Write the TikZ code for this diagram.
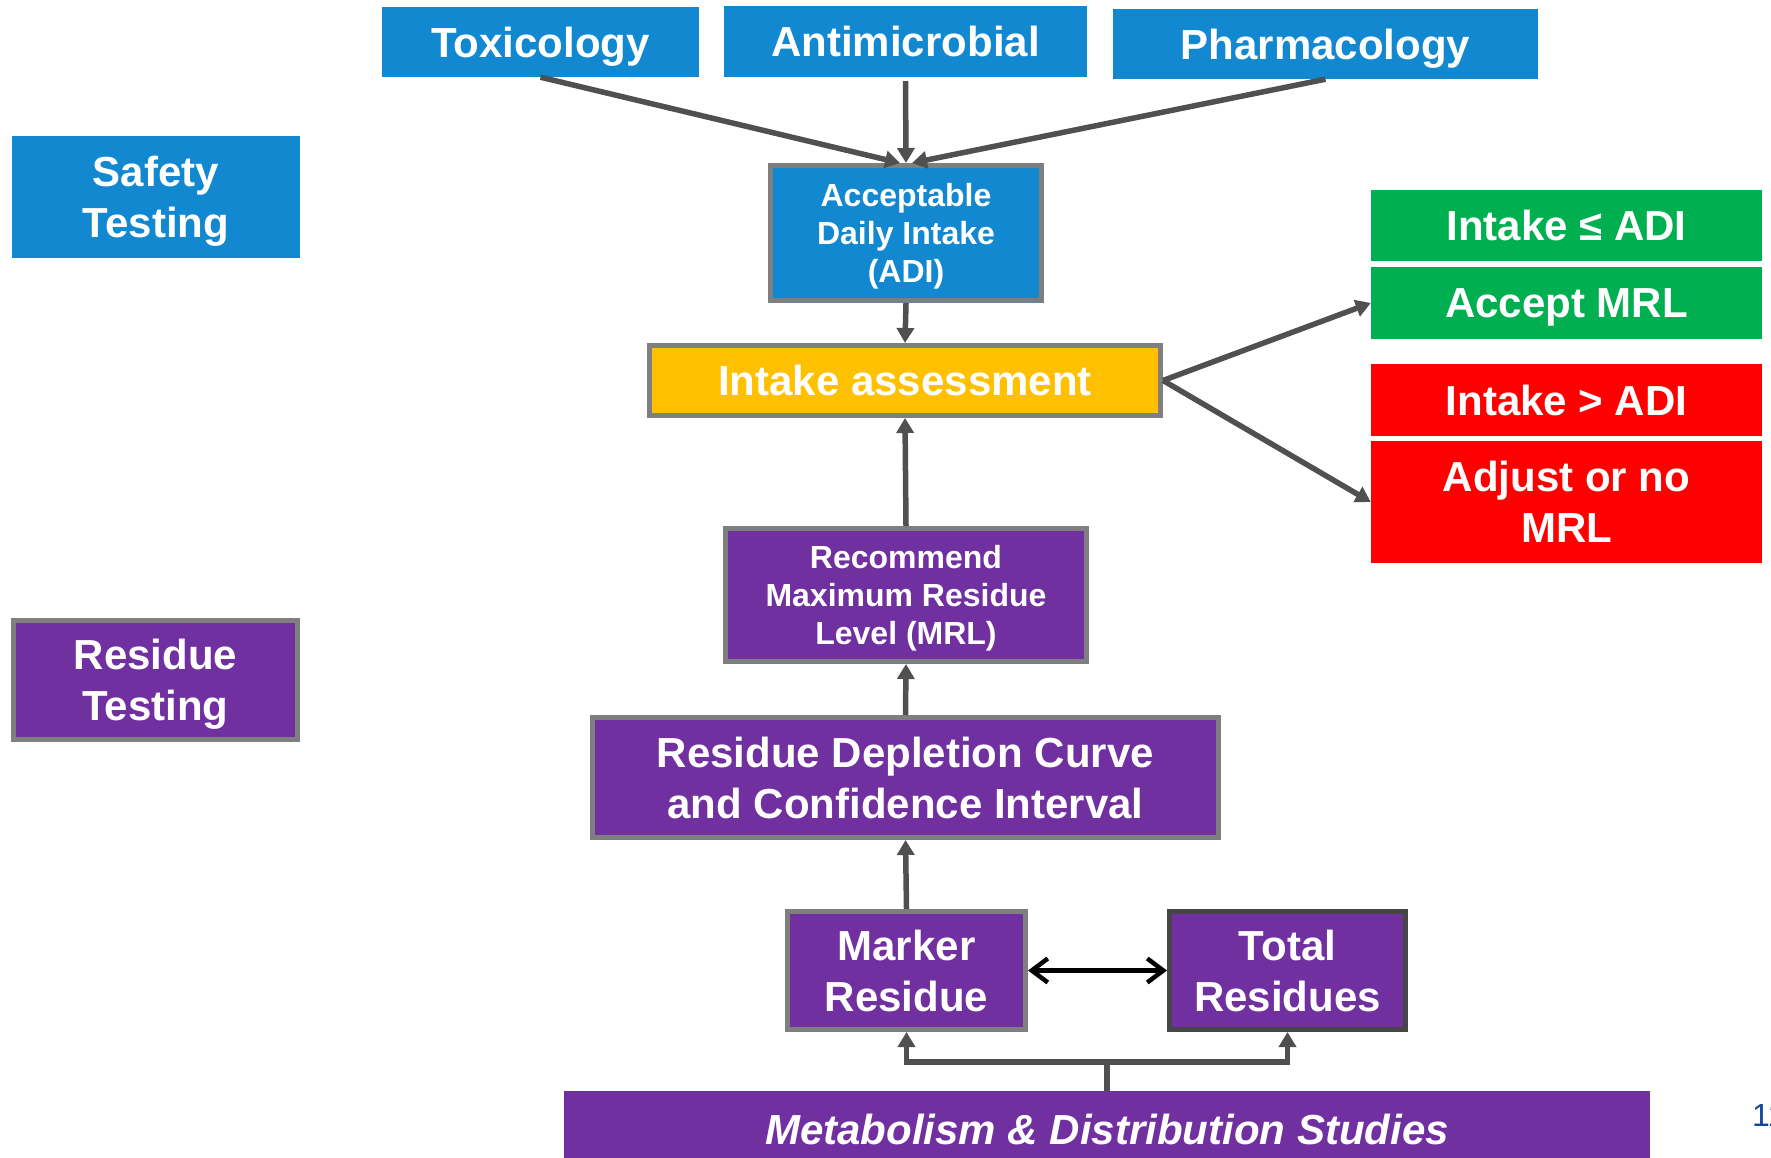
\documentclass[tikz,border=0pt]{standalone}
\usepackage{fontspec}
\setmainfont{Liberation Sans}
\usetikzlibrary{arrows.meta}
\definecolor{blueC}{RGB}{17,136,207}
\definecolor{purpleC}{RGB}{112,48,160}
\definecolor{yellowC}{RGB}{255,192,0}
\definecolor{greenC}{RGB}{0,176,80}
\definecolor{redC}{RGB}{255,0,0}
\definecolor{borderC}{RGB}{127,127,127}
\definecolor{borderD}{RGB}{70,70,70}
\definecolor{arrowC}{RGB}{80,80,80}
\definecolor{pageC}{RGB}{20,70,155}
\tikzset{
  base/.style={rectangle, inner sep=0pt, text=white, align=center, text depth=0pt,
    font=\bfseries\fontsize{42}{51}\selectfont},
  small/.style={font=\bfseries\fontsize{32}{38}\selectfont},
  framed/.style={draw=borderC, line width=5pt},
  arr/.style={draw=arrowC, line width=5.5pt, -{Triangle[length=15pt,width=17pt]}},
  dbl/.style={draw=black, line width=4.5pt, {Straight Barb[length=16pt,width=24pt]}-{Straight Barb[length=16pt,width=24pt]}},
  sz/.style 2 args={minimum width=#1pt, minimum height=#2pt}
}
\begin{document}
\begin{tikzpicture}[x=1pt,y=-1pt]
\useasboundingbox (0,0) rectangle (1771,1158);
% top sources
\node[base, fill=blueC, sz={317}{70}] (tox) at (540.5,42) {Toxicology};
\node[base, fill=blueC, sz={363}{71}] (anti) at (905.5,41.5) {Antimicrobial};
\node[base, fill=blueC, sz={425}{70}] (pharm) at (1325.5,44) {Pharmacology};
% side labels
\node[base, fill=blueC, sz={288}{122}] (safety) at (156,197) {Safety\\Testing};
\node[base, fill=purpleC, framed, sz={284}{119}] (restest) at (155.5,680) {Residue\\Testing};
% central chain
\node[base, small, fill=blueC, framed, sz={271}{135}] (adi) at (906,233) {Acceptable\\Daily Intake\\(ADI)};
\node[base, fill=yellowC, framed, sz={511}{70}] (intake) at (905,380.5) {Intake assessment};
\node[base, small, fill=purpleC, framed, sz={361}{133}] (mrl) at (906,595) {Recommend\\Maximum Residue\\Level (MRL)};
\node[base, fill=purpleC, framed, sz={626}{120}] (curve) at (905.5,777.5) {Residue Depletion Curve\\and Confidence Interval};
\node[base, fill=purpleC, framed, sz={238}{118}] (marker) at (906.5,970.5) {Marker\\Residue};
\node[base, fill=purpleC, draw=borderD, line width=5pt, sz={236}{118}] (total) at (1287.5,970.5) {Total\\Residues};
\node[base, fill=purpleC, sz={1086}{74}, font=\bfseries\itshape\fontsize{42}{51}\selectfont] (metab) at (1107,1128) {\raisebox{-2pt}{Metabolism \& Distribution Studies}};
% outcomes
\node[base, fill=greenC, sz={391}{71}] (le) at (1566.5,225.5) {Intake ≤ ADI};
\node[base, fill=greenC, sz={391}{72}] (accept) at (1566.5,303) {Accept MRL};
\node[base, fill=redC, sz={391}{72}] (gt) at (1566.5,400) {Intake > ADI};
\node[base, fill=redC, sz={391}{122}] (adjust) at (1566.5,502) {Adjust or no\\MRL};
% page number
\node[anchor=base west, inner sep=0pt, text=pageC, font=\fontsize{32}{38}\selectfont] (pg) at (1752,1126) {11};
% connectors
\draw[arr] (tox.south) -- ([xshift=-6pt]adi.north);
\draw[arr] ([yshift=-4pt]anti.south) -- (adi.north);
\draw[arr] (pharm.south) -- ([xshift=6pt]adi.north);
\draw[arr] (adi.south) -- (intake.north);
\draw[arr] (mrl.north) -- (intake.south);
\draw[arr] (curve.north) -- (mrl.south);
\draw[arr] (marker.north) -- (curve.south);
\draw[arr] (intake.east) -- (accept.west);
\draw[arr] (intake.east) -- (adjust.west);
\draw[dbl] (marker.east) -- (total.west);
\draw[draw=arrowC, line width=5.5pt] (metab.north) -- ++(0,-29) coordinate (j);
\draw[arr] (j) -| (marker.south);
\draw[arr] (j) -| (total.south);
\end{tikzpicture}
\end{document}
